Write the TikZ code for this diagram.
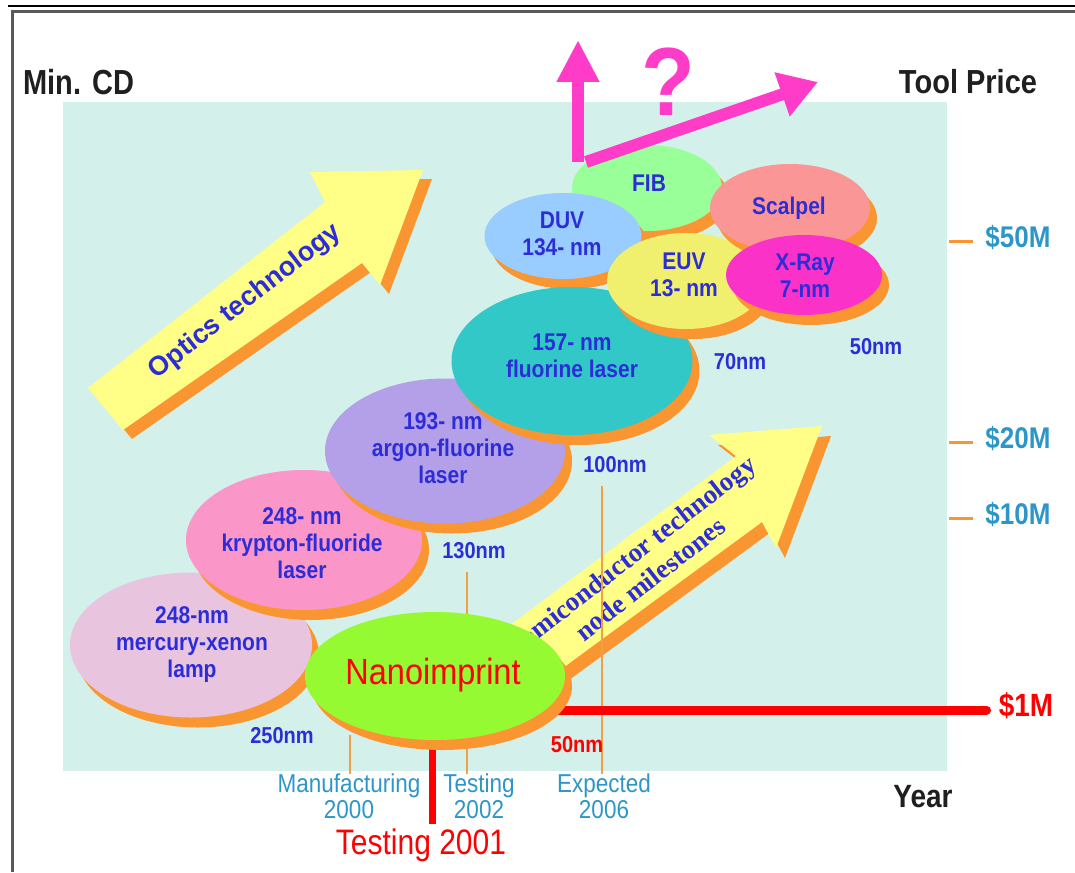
\documentclass[tikz,border=0pt]{standalone}
\usepackage{graphicx}
\usepackage{fontspec}
\setmainfont{Liberation Sans}
\newfontfamily\serifbf{Liberation Serif}
\usetikzlibrary{shapes.geometric,shadows,arrows.meta,calc}
\pgfdeclarelayer{bg}
\pgfdeclarelayer{mid}
\pgfsetlayers{bg,mid,main}
\definecolor{panelc}{RGB}{212,240,234}
\definecolor{shorange}{RGB}{250,150,50}
\definecolor{lorange}{RGB}{240,160,70}
\definecolor{ayellow}{RGB}{255,255,136}
\definecolor{tblue}{RGB}{45,45,215}
\definecolor{tteal}{RGB}{45,150,200}
\definecolor{magc}{RGB}{255,60,200}
\definecolor{redc}{RGB}{255,0,0}
\definecolor{clamp}{RGB}{232,196,222}
\definecolor{ckryp}{RGB}{250,150,200}
\definecolor{cargon}{RGB}{180,160,232}
\definecolor{cfluor}{RGB}{50,200,200}
\definecolor{cduv}{RGB}{153,204,255}
\definecolor{cfib}{RGB}{153,255,153}
\definecolor{ceuv}{RGB}{240,240,110}
\definecolor{cscal}{RGB}{250,150,150}
\definecolor{cxray}{RGB}{250,50,200}
\definecolor{cnano}{RGB}{150,250,50}
\newcommand\ml[2][1.15]{\scalebox{1}[#1]{\begin{tabular}{@{}c@{}}#2\end{tabular}}}
\tikzset{
  ell/.style={ellipse, inner sep=0pt, draw=none,
    drop shadow={shadow xshift=7pt, shadow yshift=-10pt, fill=shorange, opacity=1}},
  etxt/.style={text=tblue, font=\fontsize{21}{23.5}\selectfont\bfseries, inner sep=0pt},
  nmlbl/.style={text=tblue, font=\fontsize{20}{22}\selectfont\bfseries, inner sep=0pt},
  yrlbl/.style={text=tteal, font=\fontsize{22.5}{22}\selectfont, inner sep=0pt},
  price/.style={text=tteal, font=\fontsize{26}{30}\selectfont\bfseries, inner sep=0pt},
  axislbl/.style={text=black!88, font=\fontsize{29}{36}\selectfont\bfseries, inner sep=0pt},
  oline/.style={draw=lorange, line width=2pt},
  tickln/.style={draw=shorange, line width=3pt},
  redln/.style={draw=redc, line width=9pt},
  mag/.style={draw=magc, line width=12pt},
}
\begin{document}
\begin{tikzpicture}[x=1pt,y=-1pt]
\useasboundingbox (0,0) rectangle (1075,872);

% ---------- background layer: panel and block arrows ----------
\begin{pgfonlayer}{bg}
\fill[panelc] (63,102) rectangle (947,771);
% Optics technology arrow
\fill[shorange, shift={(9,9)}] (88,388) -- (325,202) -- (310,172) -- (423,170) -- (380,285) -- (362,263) -- (123,430) -- cycle;
\fill[ayellow] (88,388) -- (325,202) -- (310,172) -- (423,170) -- (380,285) -- (362,263) -- (123,430) -- cycle;
\node[rotate=38, text=tblue, font=\fontsize{27}{30}\selectfont\bfseries, inner sep=0pt] (optxt) at (245,302) {Optics technology};
% Semiconductor arrow
\fill[shorange, shift={(9,10)}] (465,659) -- (736,456) -- (709,435) -- (822,426) -- (776,548) -- (762,522) -- (515,703) -- cycle;
\fill[ayellow] (465,659) -- (736,456) -- (709,435) -- (822,426) -- (776,548) -- (762,522) -- (515,703) -- cycle;
\node[rotate=38, text=tblue, font=\fontsize{27}{30}\selectfont\serifbf\bfseries, inner sep=0pt, align=center] (semtxt) at (641,567) {Semiconductor technology\\node milestones};
\end{pgfonlayer}

% ---------- ellipses ----------
\node[ell, fill=clamp, minimum width=242pt, minimum height=145pt] (lamp) at (191,645) {};
\node[etxt] (lampT) at (192,645) {\ml{248-nm\\mercury-xenon\\lamp}};
\node[ell, fill=ckryp, minimum width=236pt, minimum height=140pt] (kryp) at (304,540) {};
\node[etxt] (krypT) at (302,546) {\ml{248- nm\\krypton-fluoride\\laser}};
\node[ell, fill=cargon, minimum width=240pt, minimum height=145pt] (argon) at (445,451) {};
\node[etxt] (argonT) at (443,451) {\ml{193- nm\\argon-fluorine\\laser}};
\node[ell, fill=cfib, minimum width=150pt, minimum height=86pt] (fib) at (647,188) {};
\node[etxt] (fibT) at (649,186) {\ml{FIB}};
\node[ell, fill=cduv, minimum width=157pt, minimum height=86pt] (duv) at (563,236) {};
\node[etxt] (duvT) at (562,237) {\ml{DUV\\134- nm}};
\node[ell, fill=cfluor, minimum width=241pt, minimum height=148pt] (fluor) at (572,361) {};
\node[etxt] (fluorT) at (572,359) {\ml{157- nm\\fluorine laser}};
\node[ell, fill=ceuv, minimum width=158pt, minimum height=96pt] (euv) at (686,281) {};
\node[etxt] (euvT) at (684,278) {\ml{EUV\\13- nm}};
\node[ell, fill=cscal, minimum width=160pt, minimum height=88pt] (scal) at (790,208) {};
\node[etxt] (scalT) at (789,209) {\ml{Scalpel}};
\node[ell, fill=cxray, minimum width=156pt, minimum height=80pt] (xray) at (804,275) {};
\node[etxt] (xrayT) at (805,279) {\ml{X-Ray\\7-nm}};
\node[ell, fill=cnano, minimum width=260pt, minimum height=128pt] (nano) at (435,676) {};
\node[text=redc, font=\fontsize{32.5}{34}\selectfont, inner sep=0pt] (nanoT) at (433,677) {\ml[1.12]{Nanoimprint}};

% ---------- labels ----------
\node[nmlbl] (l250) at (282,738) {\ml{250nm}};
\node[nmlbl] (l130) at (474,553) {\ml{130nm}};
\node[nmlbl] (l100) at (615,467) {\ml{100nm}};
\node[nmlbl] (l70)  at (740,364) {\ml{70nm}};
\node[nmlbl] (l50b) at (876,349) {\ml{50nm}};
\node[nmlbl, text=redc] (l50r) at (577,747) {\ml{50nm}};

\node[yrlbl] (manu) at (349,800) {\ml{Manufacturing\\2000}};
\node[yrlbl] (t2002) at (479,800) {\ml{Testing\\2002}};
\node[yrlbl] (exp) at (604,800) {\ml{Expected\\2006}};
\node[text=redc, font=\fontsize{30}{34}\selectfont, inner sep=0pt] (t2001) at (421,846) {\ml[1.18]{Testing 2001}};

\node[axislbl] (mincd) at (79,82) {\scalebox{1}[1.2]{Min. CD}};
\node[axislbl] (tool) at (968,82) {\scalebox{1}[1.15]{Tool Price}};
\node[axislbl, font=\fontsize{28}{34}\selectfont\bfseries] (year) at (923,797) {\scalebox{1}[1.15]{Year}};

\node[price] (p50) at (1018,241) {\ml{\$50M}};
\node[price] (p20) at (1018,442) {\ml{\$20M}};
\node[price] (p10) at (1018,518) {\ml{\$10M}};
\node[price, text=redc, font=\fontsize{28}{30}\selectfont\bfseries] (p1) at (1026,710) {\ml{\$1M}};

\node[text=magc, font=\fontsize{88}{90}\selectfont\bfseries, inner sep=0pt] (qm) at (668,82) {\scalebox{1}[1.1]{?}};

% ---------- connectors on middle layer ----------
\coordinate (r01) at (432,740);
\coordinate (m00) at (350,735);
\begin{pgfonlayer}{mid}
\draw[oline] (m00) -- (m00 |- manu.north);
\draw[oline] ([xshift=-7pt,yshift=-6pt]l130.south) -- ([xshift=-7pt]l130.south |- t2002.north);
\draw[oline] ([xshift=-13pt,yshift=-6pt]l100.south) -- ([xshift=-13pt]l100.south |- exp.north);
\draw[redc, line width=7pt] (r01) -- ([yshift=2pt]r01 |- t2001.north);
\draw[redln, line cap=round] (nano.center |- p1.center) -- ([xshift=-12pt]p1.west);
\end{pgfonlayer}

\draw[tickln] ([xshift=-12pt]p50.west) -- ++(-24,0);
\draw[tickln] ([xshift=-12pt]p20.west) -- ++(-24,0);
\draw[tickln] ([xshift=-12pt]p10.west) -- ++(-24,0);

% magenta arrows
\coordinate (qb) at (578,162);
\coordinate (qt) at (578,40);
\coordinate (qb2) at (586,162);
\coordinate (qr) at (818,82);
\draw[mag, -{Triangle[length=42pt,width=40pt]}] (qb) -- (qt);
\draw[mag, -{Triangle[length=38pt,width=44pt]}] (qb2) -- (qr);

% frame
\draw[black, line width=1.5pt] (8,6) -- (1075,6);
\draw[black!65, line width=3pt] (12,872) -- (12,11.5) -- (1075,11.5);
\end{tikzpicture}
\end{document}
